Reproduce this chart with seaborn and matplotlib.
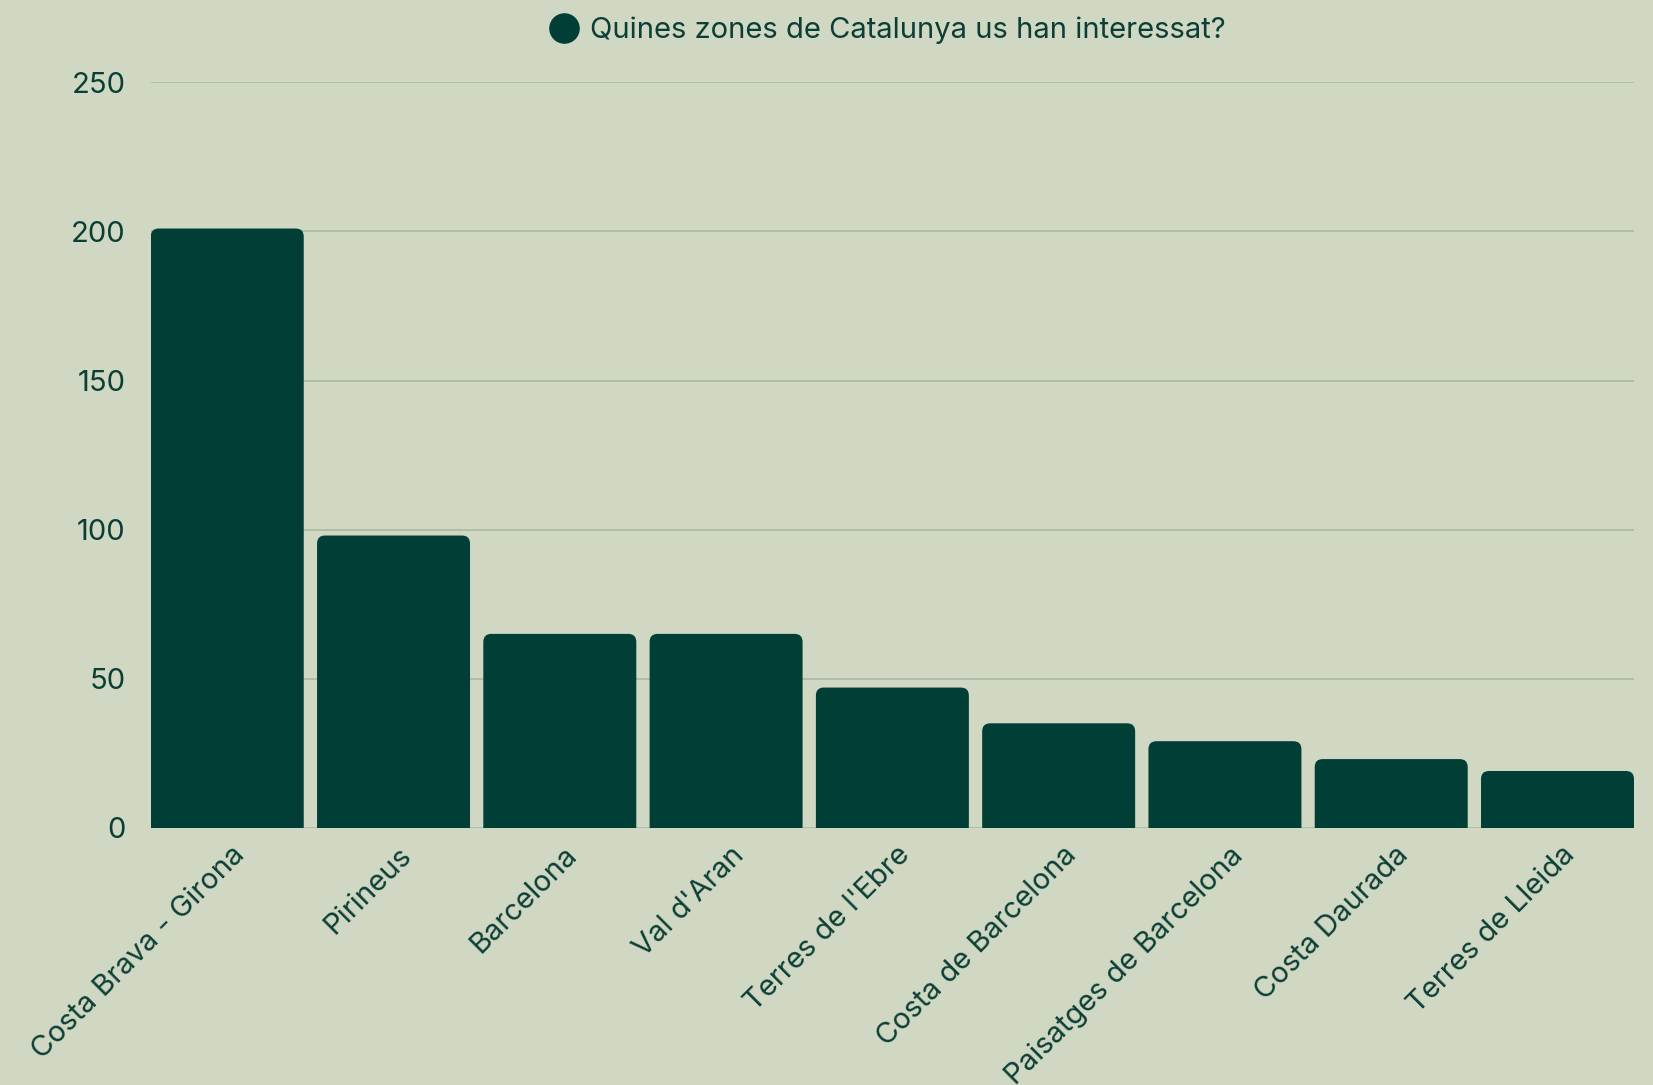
import matplotlib
matplotlib.use("Agg")
import matplotlib.pyplot as plt
import matplotlib.transforms as mtransforms
from matplotlib.patches import FancyBboxPatch
from matplotlib.lines import Line2D
import pandas as pd
import seaborn as sns

zones = ["Costa Brava - Girona", "Pirineus", "Barcelona", "Val d'Aran",
         "Terres de l'Ebre", "Costa de Barcelona", "Paisatges de Barcelona",
         "Costa Daurada", "Terres de Lleida"]
counts = [201, 98, 65, 65, 47, 35, 29, 23, 19]
series_name = "Quines zones de Catalunya us han interessat?"
y_ticks = [0, 50, 100, 150, 200, 250]

bg = "#d0d7c2"
bar_color = "#013f36"
text_color = "#0b3f35"
grid_color = "#aebba4"

sns.set_theme(style="white")
plt.rcParams["font.family"] = ["Inter", "DejaVu Sans"]

df = pd.DataFrame({"zona": zones, "n": counts})

fig = plt.figure(figsize=(16.53, 10.85), dpi=100, facecolor=bg)
ax = fig.add_axes([0.0912, 0.2372, 0.8973, 0.6868])
ax.set_facecolor(bg)

sns.barplot(data=df, x="zona", y="n", color=bar_color, width=0.92,
            saturation=1, ax=ax, zorder=3)

# swap the square bars for ones with rounded tops
px_per_x = ax.bbox.width / 8.92
px_per_y = ax.bbox.height / 250
r_px = 8
for p in list(ax.patches):
    x0, w, h = p.get_x(), p.get_width(), p.get_height()
    ext = r_px * 1.5 / px_per_y
    fb = FancyBboxPatch((x0, -ext), w, h + ext,
                        boxstyle=f"round,pad=0,rounding_size={r_px / px_per_x}",
                        mutation_aspect=px_per_x / px_per_y,
                        facecolor=bar_color, edgecolor="none", zorder=3)
    p.remove()
    ax.add_patch(fb)

ax.set_xlim(-0.46, 8.46)
ax.set_ylim(0, 250)
ax.set_yticks(y_ticks)
ax.yaxis.grid(True, color=grid_color, linewidth=1.3, zorder=0)
ax.set_axisbelow(True)
for s in ax.spines.values():
    s.set_visible(False)
ax.set_xlabel("")
ax.set_ylabel("")
ax.tick_params(axis="y", length=0, pad=18, labelsize=21, labelcolor=text_color)
ax.tick_params(axis="x", length=0, pad=10, labelsize=21, labelcolor=text_color)

offset = mtransforms.ScaledTranslation(4 / 100, 0, fig.dpi_scale_trans)
for lab in ax.get_xticklabels():
    lab.set_rotation(45)
    lab.set_ha("right")
    lab.set_va("top")
    lab.set_rotation_mode("anchor")
    lab.set_transform(lab.get_transform() + offset)

handle = Line2D([], [], marker="o", linestyle="none", markersize=21,
                markerfacecolor=bar_color, markeredgecolor=bar_color)
fig.legend([handle], [series_name], loc="upper center",
           bbox_to_anchor=(0.536, 1.009), frameon=False, fontsize=21,
           labelcolor=text_color, handletextpad=0.3, handlelength=1.2)

fig.savefig("out.png", dpi=100, facecolor=bg)
